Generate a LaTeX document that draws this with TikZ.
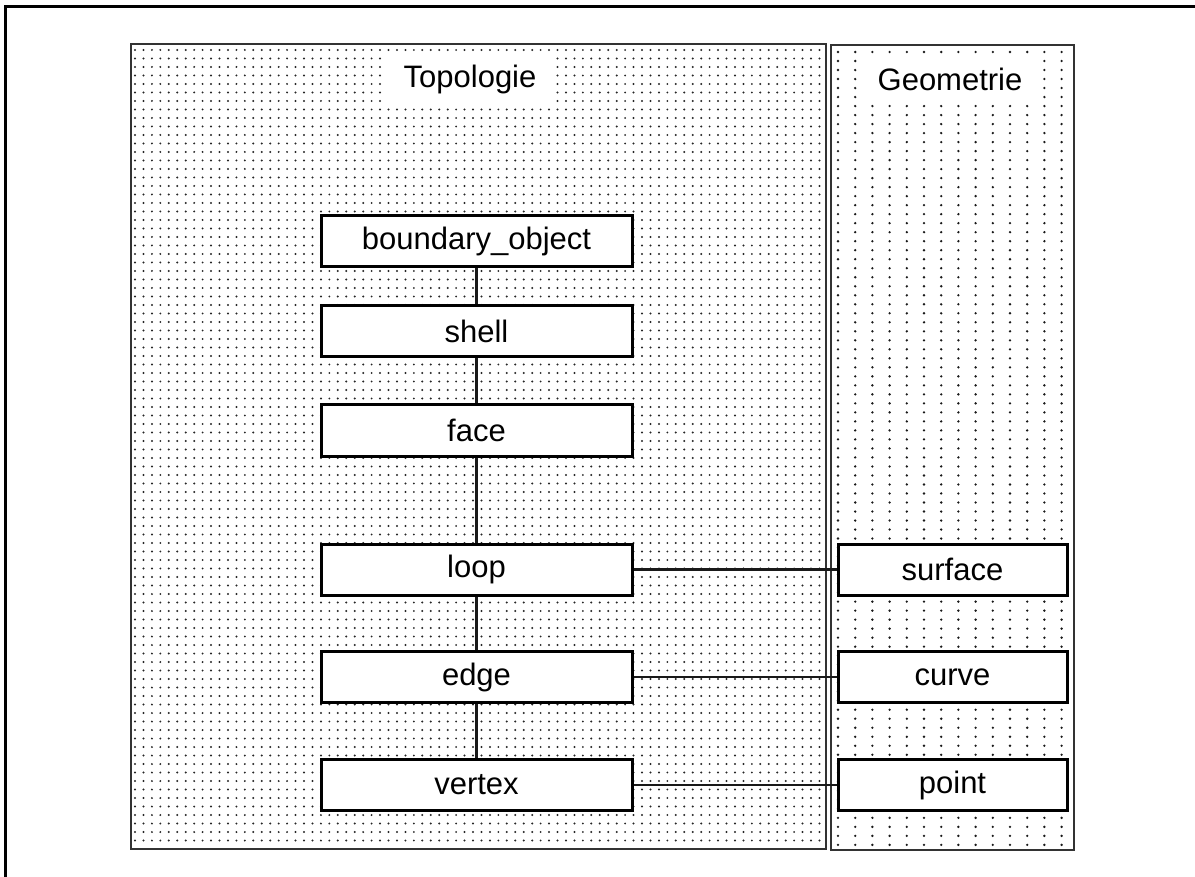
\documentclass[tikz,border=0pt]{standalone}
\usepackage{fontspec}
\setmainfont{Liberation Sans}
\begin{document}
\begin{tikzpicture}[x=1pt,y=-1pt,
  every node/.style={font=\fontsize{31}{36}\selectfont},
  entity/.style={draw=black, line width=3pt, fill=white, minimum height=51pt, inner sep=0pt},
  topobox/.style={entity, minimum width=311pt},
  geobox/.style={entity, minimum width=229pt},
  link/.style={draw=black!90, line width=2.4pt},
  panel/.style={draw=black!80, line width=1.4pt}]
\useasboundingbox (0,0) rectangle (1195,877);
% outer frame (top and left edges)
\draw[line width=3pt] (5,877) -- (5,7) -- (1195,7);

% dotted background of the topology panel, one path per row
\foreach \j in {0,...,93}{
  \fill[black!85] \foreach \i in {0,...,81}{(135+\i*8.45,50+\j*8.5) circle (1.1)};
}
% dotted background of the geometry panel
\foreach \j in {0,...,88}{
  \fill[black!90] \foreach \i in {0,...,13}{(838+\i*17.2,52+\j*9.01) circle (1.3)};
}

\draw[panel] (131,44) rectangle (826,849);
\draw[panel] (831,45) rectangle (1074,850);

% panel titles
\fill[white] (386,56) rectangle (551,104);
\node (topo) at (470,79) {Topologie};
\fill[white] (860,57) rectangle (1039,102);
\node (geo) at (950,79) {Geometrie};

% topology entities
\node[topobox] (bo) at (476.5,241.5) {boundary\_object};
\node[topobox] (shell) at (476.5,331) {shell};
\node[topobox] (face) at (476.5,430.5) {face};
\node[topobox] (loop) at (476.5,569.5) {loop};
\node[topobox] (edge) at (476.5,677) {edge};
\node[topobox] (vertex) at (476.5,785) {vertex};

% geometry entities
\node[geobox] (surface) at (952.5,569.5) {surface};
\node[geobox] (curve) at (952.5,677) {curve};
\node[geobox] (point) at (952.5,785) {point};

% connectors
\draw[link] (bo.south) -- (shell.north);
\draw[link] (shell.south) -- (face.north);
\draw[link] (face.south) -- (loop.north);
\draw[link] (loop.south) -- (edge.north);
\draw[link] (edge.south) -- (vertex.north);
\draw[link] (loop.east) -- (surface.west);
\draw[link] (edge.east) -- (curve.west);
\draw[link] (vertex.east) -- (point.west);
\end{tikzpicture}
\end{document}
